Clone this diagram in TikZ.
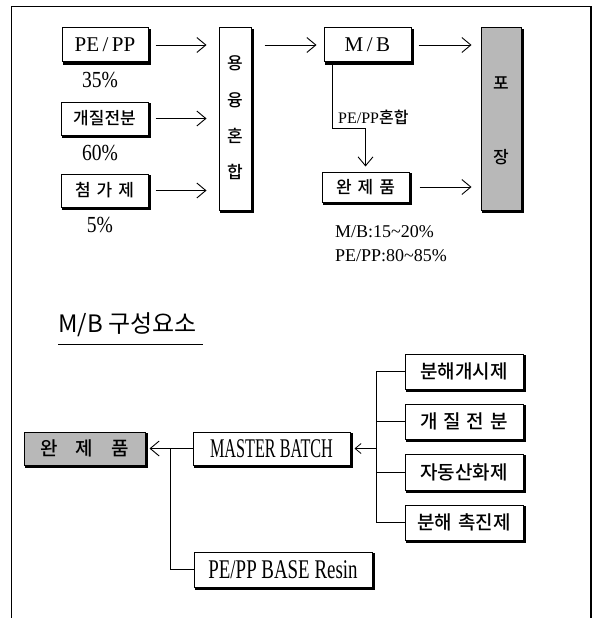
\documentclass[tikz,border=0pt]{standalone}
\usepackage{fontspec}
\setmainfont{Liberation Serif}
\newfontfamily\kr{Noto Sans CJK KR Medium}
\newfontfamily\krs{Noto Sans CJK KR}
\usetikzlibrary{arrows.meta,calc}
\begin{document}
\begin{tikzpicture}[x=1pt,y=-1pt,
 bx/.style={draw, line width=1pt, fill=white, inner sep=0pt},
 gbx/.style={bx, fill=black!28},
 shd/.style={line width=2.2pt, line cap=rect},
 arr/.style={line width=0.9pt, -{Straight Barb[length=9pt,width=15pt,line width=0.9pt]}},
 sarr/.style={line width=0.9pt, -{Straight Barb[length=6pt,width=10pt,line width=0.8pt]}},
 ln/.style={line width=0.9pt},
 lat/.style={font=\rmfamily\fontsize{21}{23}\selectfont},
 pct/.style={font=\rmfamily\fontsize{23}{25}\selectfont, inner sep=0pt},
 ko/.style={font=\kr\fontsize{17}{20}\selectfont},
 kob/.style={font=\kr\fontsize{19}{22}\selectfont},
 latb/.style={font=\rmfamily\fontsize{27}{30}\selectfont},
]
\useasboundingbox (0,0) rectangle (593,618);
% frame
\draw[line width=1.4pt] (11.5,618) -- (11.5,6.5) -- (591,6.5) -- (591,618);

% ---- top section ----
\node[bx, lat, minimum width=86pt, minimum height=34pt] (pepp) at (105,45) {PE\,/\,PP};
\node[pct] (p35) at (100,80) {\scalebox{0.85}[1]{35\%}};
\node[bx, ko, minimum width=87pt, minimum height=33pt] (gj) at (104.5,118.5) {개질전분};
\node[pct] (p60) at (100,153) {\scalebox{0.85}[1]{60\%}};
\node[bx, ko, minimum width=87pt, minimum height=33pt] (cg) at (104.5,190.5) {첨\hspace{6pt}가\hspace{6pt}제};
\node[pct] (p5) at (100,225) {\scalebox{0.85}[1]{5\%}};

\node[bx, minimum width=32pt, minimum height=182pt] (yong) at (235,119) {};
\node[ko, inner sep=0pt] (y1) at (235,63) {용};
\node[ko, inner sep=0pt] (y2) at (235,100) {융};
\node[ko, inner sep=0pt] (y3) at (235,136) {혼};
\node[ko, inner sep=0pt] (y4) at (235,172) {합};

\node[bx, lat, minimum width=87pt, minimum height=34pt] (mb) at (367.5,45) {M\,/\,B};
\node[gbx, minimum width=40pt, minimum height=182pt] (pj) at (501,119) {};
\node[ko, inner sep=0pt] (pj1) at (501,83) {포};
\node[ko, inner sep=0pt] (pj2) at (501,157) {장};
\node[bx, ko, minimum width=87pt, minimum height=30pt] (wan1) at (365.5,187) {완\hspace{6pt}제\hspace{6pt}품};

\draw[arr, shorten <=7pt, shorten >=12pt] (pepp.east) -- (pepp.east -| yong.west);
\draw[arr, shorten <=7pt, shorten >=12pt] (gj.east) -- (gj.east -| yong.west);
\draw[arr, shorten <=7pt, shorten >=12pt] (cg.east) -- (cg.east -| yong.west);
\draw[arr, shorten <=13pt, shorten >=7pt] (yong.east |- mb.west) -- (mb.west);
\draw[arr, shorten <=7pt, shorten >=9pt] (mb.east) -- (mb.east -| pj.west);
\draw[arr, shorten <=10pt, shorten >=9pt] (wan1.east) -- (wan1.east -| pj.west);

\coordinate (c0) at ($(mb.south west)+(9,0)$);
\coordinate (c1) at (wan1.north |- 0,128);
\draw[ln] (c0) |- (c1);
\draw[arr, shorten >=5pt] (c1) -- (wan1.north);
\node[anchor=west, inner sep=0pt, font=\rmfamily\fontsize{16}{18}\selectfont] (mix) at (338,117) {PE/PP{\kr 혼합}};

\node[anchor=west, inner sep=0pt, font=\rmfamily\fontsize{18}{20}\selectfont] (r1t) at (335,232) {M/B:15\textasciitilde 20\%};
\node[anchor=west, inner sep=0pt, font=\rmfamily\fontsize{18}{20}\selectfont] (r2t) at (335,256) {PE/PP:80\textasciitilde 85\%};

% ---- bottom section ----
\node[anchor=west, inner sep=0pt, font=\krs\fontsize{24}{27}\selectfont] (title) at (58,325) {M/B 구성요소};
\draw[line width=0.8pt] (58,344) -- (203,344);

\node[gbx, kob, minimum width=121pt, minimum height=33pt] (wan2) at (84.5,448.5) {완\hspace{18pt}제\hspace{18pt}품};
\node[bx, latb, minimum width=157pt, minimum height=33pt] (mast) at (271.5,448.5) {\scalebox{0.6}[1]{MASTER BATCH}};
\node[bx, latb, minimum width=178pt, minimum height=35pt] (base) at (283,569.5) {\scalebox{0.7}[1]{PE/PP BASE Resin}};

\node[bx, kob, minimum width=118pt, minimum height=35pt] (r1) at (464,371.5) {분해개시제};
\node[bx, kob, minimum width=118pt, minimum height=35pt] (r2) at (464,421.5) {개\hspace{6pt}질\hspace{6pt}전\hspace{6pt}분};
\node[bx, kob, minimum width=118pt, minimum height=36pt] (r3) at (464,472) {자동산화제};
\node[bx, kob, minimum width=118pt, minimum height=35pt] (r4) at (464,522.5) {분해\hspace{6pt}촉진제};

% shadows (thick right and bottom edges)
\foreach \n in {pepp,gj,cg,yong,mb,pj,wan1,wan2,mast,base,r1,r2,r3,r4}
  \draw[shd] ($(\n.north east)+(1,2.5)$) -- ($(\n.south east)+(1,1)$) -- ($(\n.south west)+(2.5,1)$);

\draw[arr, shorten >=4pt] (mast.west) -- (wan2.east);
\coordinate (j1) at (170,448.5);
\draw[ln] (j1) |- (base.west);

\coordinate (sp1) at (376,371.5);
\coordinate (sp4) at (376,522.5);
\draw[ln] (sp1) -- (sp4);
\draw[ln] (sp1) -- (r1.west);
\draw[ln] (r2.west -| sp1) -- (r2.west);
\draw[ln] (r3.west -| sp1) -- (r3.west);
\draw[ln] (sp4) -- (r4.west);
\draw[sarr, shorten >=4pt] (mast.east -| sp1) -- (mast.east);
\end{tikzpicture}
\end{document}
